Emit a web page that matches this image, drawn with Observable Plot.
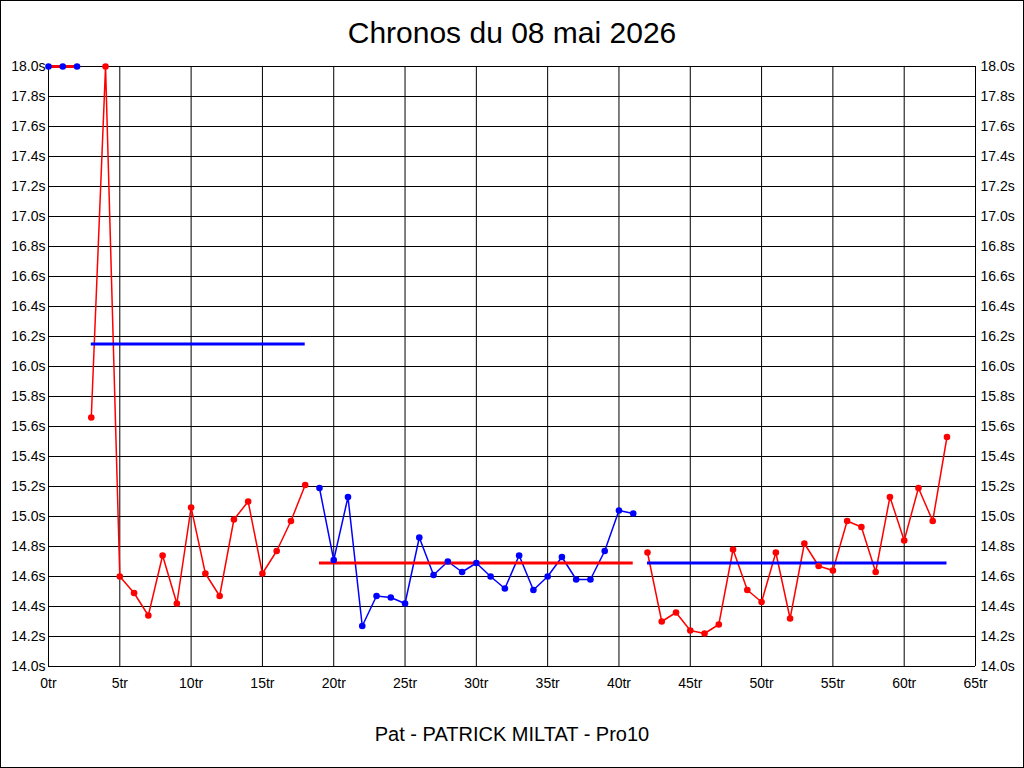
<!DOCTYPE html>
<html>
<head>
<meta charset="utf-8">
<script src="https://cdn.jsdelivr.net/npm/d3@7"></script>
<script src="https://cdn.jsdelivr.net/npm/@observablehq/plot@0.6"></script>
<style>
  html, body { margin: 0; padding: 0; background: #fff; }
  #wrap { position: relative; width: 1024px; height: 768px; overflow: hidden; font-family: "Liberation Sans", Arial, sans-serif; }
  #border { position: absolute; left: 0; top: 0; width: 1024px; height: 768px; box-sizing: border-box; border: 1px solid #000; pointer-events: none; }
  #title { height: 32px; padding-top: 18px; line-height: 30px; font-size: 30px; text-align: center; color: #000; }
  #footer { padding-top: 14px; line-height: 20px; font-size: 20px; text-align: center; color: #000; }
  svg { display: block; }
</style>
</head>
<body>
<div id="wrap">
  <div id="title">Chronos du 08 mai 2026</div>
  <div id="chart"></div>
  <div id="footer">Pat - PATRICK MILTAT - Pro10</div>
  <div id="border"></div>
</div>
<script>
// Lap times (s), index = lap number (tr)
const times = [
  18.0, 18.0, 18.0, 15.66, 18.0, 14.60, 14.49, 14.34, 14.74, 14.42,
  15.06, 14.62, 14.47, 14.98, 15.10, 14.62, 14.77, 14.97, 15.21, 15.19,
  14.71, 15.13, 14.27, 14.47, 14.46, 14.42, 14.86, 14.61, 14.70, 14.63,
  14.69, 14.60, 14.52, 14.74, 14.51, 14.60, 14.73, 14.58, 14.58, 14.77,
  15.04, 15.02, 14.76, 14.30, 14.36, 14.24, 14.22, 14.28, 14.78, 14.51,
  14.43, 14.76, 14.32, 14.82, 14.67, 14.64, 14.97, 14.93, 14.63, 15.13,
  14.84, 15.19, 14.97, 15.53
];
// Groups (series of laps)
const groupStart = [0, 3, 19, 42];
const groupEnd   = [2, 18, 41, 63];
const groupLevel = [18.0, 16.15, 14.69, 14.69];
const dotColor   = ["#0000ff", "#ff0000", "#0000ff", "#ff0000"];
const levelColor = ["#ff0000", "#0000ff", "#ff0000", "#0000ff"];
// Axis ticks
const xTicks = [0, 5, 10, 15, 20, 25, 30, 35, 40, 45, 50, 55, 60, 65];
const yTicks = [14.0, 14.2, 14.4, 14.6, 14.8, 15.0, 15.2, 15.4, 15.6, 15.8, 16.0, 16.2, 16.4, 16.6, 16.8, 17.0, 17.2, 17.4, 17.6, 17.8, 18.0];

const groupOf = (lap) => groupStart.findIndex((s, i) => lap >= s && lap <= groupEnd[i]);
const points = times.map((t, lap) => ({lap, t, g: groupOf(lap)}));
points.forEach(p => p.color = dotColor[p.g]);
const levels = groupStart.map((s, i) => ({x1: s, x2: groupEnd[i], y: groupLevel[i], color: levelColor[i]}));

const fmtY = d => d.toFixed(1) + "s";
const fmtX = d => d + "tr";

const chart = Plot.plot({
  width: 1024,
  height: 660,
  marginLeft: 48,
  marginRight: 49,
  marginTop: 16,
  marginBottom: 44,
  style: {fontFamily: "'Liberation Sans', Arial, sans-serif", fontSize: "14px", color: "#000", background: "#fff"},
  x: {domain: [0, 65], ticks: xTicks, label: null},
  y: {domain: [14.0, 18.0], ticks: yTicks, label: null},
  marks: [
    Plot.gridX(xTicks, {stroke: "#000", strokeOpacity: 1, strokeWidth: 1}),
    Plot.gridY(yTicks, {stroke: "#000", strokeOpacity: 1, strokeWidth: 1}),
    Plot.axisX(xTicks, {anchor: "bottom", tickSize: 0, tickPadding: 12, tickFormat: fmtX, fontSize: 14}),
    Plot.axisY(yTicks, {anchor: "left", tickSize: 0, tickPadding: 3, tickFormat: fmtY, fontSize: 14}),
    Plot.axisY(yTicks, {anchor: "right", tickSize: 0, tickPadding: 5, tickFormat: fmtY, fontSize: 14}),
    Plot.line(points, {x: "lap", y: "t", z: "g", stroke: "color", strokeWidth: 1.5, curve: "linear"}),
    Plot.ruleY(levels, {x1: "x1", x2: "x2", y: "y", stroke: "color", strokeWidth: 3}),
    Plot.dot(points, {x: "lap", y: "t", fill: "color", r: 3.3, stroke: null})
  ]
});
document.getElementById("chart").appendChild(chart);
</script>
</body>
</html>
